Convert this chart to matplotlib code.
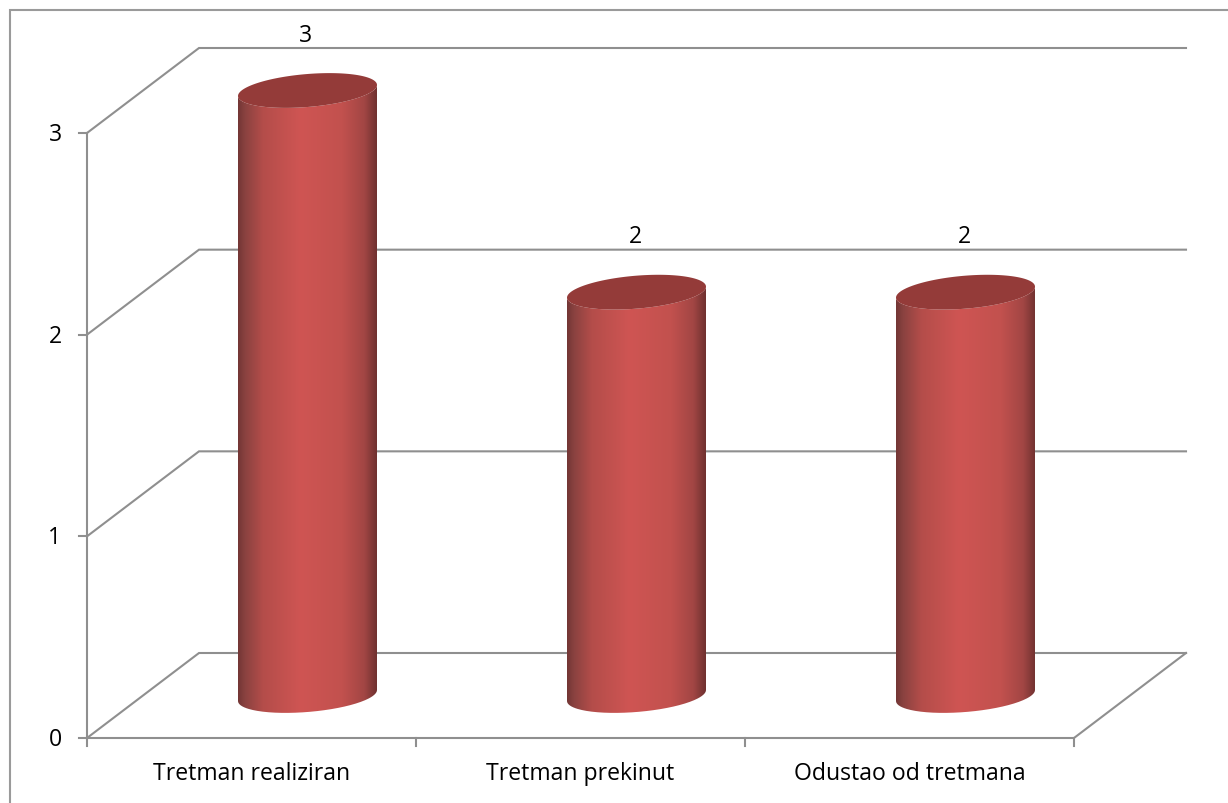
import numpy as np
import matplotlib
matplotlib.use("Agg")
import matplotlib.pyplot as plt
from matplotlib.patches import PathPatch
from matplotlib.path import Path
from matplotlib.colors import LinearSegmentedColormap

categories = ["Tretman realiziran", "Tretman prekinut", "Odustao od tretmana"]
values = [3, 2, 2]
y_ticks = [0, 1, 2, 3]

W, H = 1228, 804
X0, X1, Y0, Y3 = 87.0, 1074.0, 739.0, 134.0
PX_PER_X = (X1 - X0) / len(categories)
PX_PER_Y = (Y0 - Y3) / 3.0
DX = 112.0 / PX_PER_X      # depth offset in data units
DY = 85.0 / PX_PER_Y
GREY = "#8f8f8f"
FS = 16.6

plt.rcParams["font.family"] = ["Open Sans", "DejaVu Sans"]
fig = plt.figure(figsize=(W / 100, H / 100), dpi=100, facecolor="white")
ax = fig.add_axes([0, 0, 1, 1])
ax.axis("off")
ax.set_xlim((0 - X0) / PX_PER_X, (W - X0) / PX_PER_X)
ax.set_ylim((Y0 - H) / PX_PER_Y, (Y0 - 0) / PX_PER_Y)

fx = lambda p: (p - X0) / PX_PER_X
fy = lambda p: (Y0 - p) / PX_PER_Y
# outer frame: only the left and top edges are visible in the reference
ax.plot([fx(10), fx(10), fx(W + 5)], [fy(H + 5), fy(11), fy(11)],
        color="#9a9a9a", lw=1.5, zorder=1, solid_joinstyle="miter")

n = len(categories)
lw = 1.5
for v in y_ticks:
    ax.plot([0, DX, n + DX], [v, v + DY, v + DY], color=GREY, lw=lw, zorder=2,
            solid_joinstyle="miter")
    ax.plot([-8 / PX_PER_X, 0], [v, v], color=GREY, lw=lw, zorder=2)
    ax.text(-32 / PX_PER_X, v - 1 / PX_PER_Y, str(v), ha="center", va="center",
            fontsize=FS, color="black")
ax.plot([0, 0], [0, y_ticks[-1]], color=GREY, lw=lw, zorder=2)
ax.plot([0, n, n + DX], [0, 0, DY], color=GREY, lw=lw, zorder=2)
for i in range(n + 1):
    ax.plot([i, i], [0, -8 / PX_PER_Y], color=GREY, lw=lw, zorder=2)

cmap = LinearSegmentedColormap.from_list("cyl", [
    (0.00, "#733635"), (0.05, "#8a4240"), (0.18, "#b44d4a"), (0.45, "#cf5553"),
    (0.75, "#c2514e"), (0.91, "#a24644"), (1.00, "#703130")])
grad = np.linspace(0, 1, 256).reshape(1, -1)

half_w = 69.5 / PX_PER_X
tilt = 5.5 / PX_PER_Y
minor = 16.5 / PX_PER_Y
t = np.linspace(0, 2 * np.pi, 181)
for i, (cat, val) in enumerate(zip(categories, values)):
    cx = i + 0.5 + DX / 2
    base = DY / 2
    top = base + val
    ex = half_w * np.cos(t)
    ey = tilt * np.cos(t) + minor * np.sin(t)
    tl = np.linspace(np.pi, 2 * np.pi, 91)
    lx = cx + half_w * np.cos(tl)
    ly = base + tilt * np.cos(tl) + minor * np.sin(tl)
    ux = lx[::-1]
    uy = top + tilt * np.cos(tl[::-1]) + minor * np.sin(tl[::-1])
    verts = np.column_stack([np.r_[lx, ux], np.r_[ly, uy]])
    verts = np.vstack([verts, verts[0]])
    clip = PathPatch(Path(verts), transform=ax.transData, fc="none", ec="none")
    ax.add_patch(clip)
    im = ax.imshow(grad, cmap=cmap, aspect="auto", zorder=3,
                   extent=[cx - half_w, cx + half_w, base - 0.2, top + 0.2])
    im.set_clip_path(clip)
    ax.fill(cx + ex, top + ey, color="#943b39", lw=0, zorder=4)
    ax.text(cx - 1.5 / PX_PER_X, val + DY + 13.5 / PX_PER_Y, str(val), ha="center",
            va="center", fontsize=FS, color="black", zorder=5)
    ax.text(i + 0.5, -35.5 / PX_PER_Y, cat, ha="center", va="center",
            fontsize=FS, color="black", zorder=5)

ax.set_xlim((0 - X0) / PX_PER_X, (W - X0) / PX_PER_X)
ax.set_ylim((Y0 - H) / PX_PER_Y, (Y0 - 0) / PX_PER_Y)
fig.savefig("out.png", dpi=100, facecolor="white")
